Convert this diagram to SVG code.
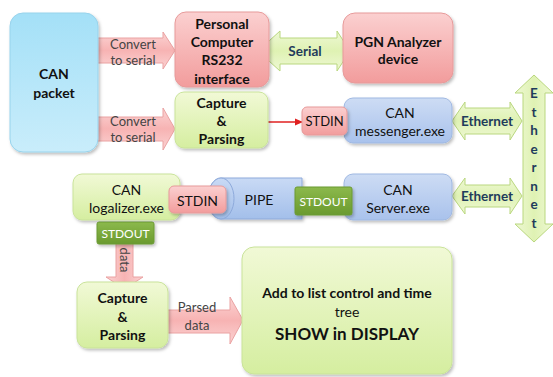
<svg xmlns="http://www.w3.org/2000/svg" width="553" height="377" viewBox="0 0 553 377">
<defs>
<linearGradient id="gBlue" x1="0" y1="0" x2="0" y2="1"><stop offset="0" stop-color="#a4e0f7"/><stop offset="1" stop-color="#c9edfb"/></linearGradient>
<linearGradient id="gPink" x1="0" y1="0" x2="0" y2="1"><stop offset="0" stop-color="#fbd0d0"/><stop offset="1" stop-color="#f29c9c"/></linearGradient>
<linearGradient id="gGreen" x1="0" y1="0" x2="0" y2="1"><stop offset="0" stop-color="#f1f9d6"/><stop offset="1" stop-color="#d5eea0"/></linearGradient>
<linearGradient id="gPurple" x1="0" y1="0" x2="0" y2="1"><stop offset="0" stop-color="#cddcf4"/><stop offset="1" stop-color="#a9c2ec"/></linearGradient>
<linearGradient id="gArrowPink" x1="0" y1="0" x2="0" y2="1"><stop offset="0" stop-color="#fbd3d3"/><stop offset="0.5" stop-color="#f7b3b3"/><stop offset="1" stop-color="#fbd3d3"/></linearGradient>
<linearGradient id="gArrowPinkV" x1="0" y1="0" x2="1" y2="0"><stop offset="0" stop-color="#fbd3d3"/><stop offset="0.5" stop-color="#f7b3b3"/><stop offset="1" stop-color="#fbd3d3"/></linearGradient>
<linearGradient id="gArrowGreen" x1="0" y1="0" x2="0" y2="1"><stop offset="0" stop-color="#eef8d4"/><stop offset="0.5" stop-color="#dff2b3"/><stop offset="1" stop-color="#eef8d4"/></linearGradient>
<linearGradient id="gArrowGreenV" x1="0" y1="0" x2="1" y2="0"><stop offset="0" stop-color="#eef8d4"/><stop offset="0.5" stop-color="#dff2b3"/><stop offset="1" stop-color="#eef8d4"/></linearGradient>
<linearGradient id="gDark" x1="0" y1="0" x2="0" y2="1"><stop offset="0" stop-color="#8cb94c"/><stop offset="1" stop-color="#6a9a2e"/></linearGradient>
<linearGradient id="gPipe" x1="0" y1="0" x2="0" y2="1"><stop offset="0" stop-color="#c9daf5"/><stop offset="1" stop-color="#a3bfea"/></linearGradient>
<filter id="sh" x="-20%" y="-20%" width="140%" height="140%"><feDropShadow dx="1.5" dy="2" stdDeviation="1.5" flood-color="#000" flood-opacity="0.25"/></filter>
<marker id="redHead" markerWidth="8" markerHeight="8" refX="7" refY="4" orient="auto" markerUnits="userSpaceOnUse"><path d="M0,0.5 L8,4 L0,7.5 Z" fill="#e02020"/></marker>
<style>
text{font-family:Lato,"Liberation Sans",sans-serif;text-anchor:middle;dominant-baseline:central;fill:#111}
.b{font-weight:bold;font-size:14px}
.n{font-size:14px}
.lbl{font-size:13px;fill:#444}
.eth{font-weight:bold;font-size:13.5px;fill:#1f3b5c}
.w{fill:#fff;font-size:12px}
.pink{fill:url(#gPink);stroke:#e79a9a;stroke-width:1}
.green{fill:url(#gGreen);stroke:#c9e39a;stroke-width:1}
.blue{fill:url(#gPurple);stroke:#9fb8e2;stroke-width:1}
.dark{fill:url(#gDark);stroke:#6b9a33;stroke-width:1}
.ap{fill:url(#gArrowPink);stroke:#eaa2a2;stroke-width:1}
.apv{fill:url(#gArrowPinkV);stroke:#eaa2a2;stroke-width:1}
.ag{fill:url(#gArrowGreen);stroke:#b9d77e;stroke-width:1}
.agv{fill:url(#gArrowGreenV);stroke:#b9d77e;stroke-width:1}
</style>
</defs>
<rect width="553" height="377" fill="#fff"/>

<g id="connectors">
<polygon class="ap" points="97,38 163,38 163,32 175,50.5 163,69 163,63 97,63"/>
<polygon class="ap" points="97,117 163,117 163,108 175,129 163,150 163,141 97,141"/>
<polygon class="ag" points="258,51 280,31 280,38 337,38 337,31 350,51 337,71 337,64 280,64 280,71"/>
<polygon class="ag" points="452,121 465,102 465,108 510,108 510,102 522,121 510,140 510,134 465,134 465,140"/>
<polygon class="ag" points="452,196 465,178 465,185 510,185 510,178 522,196 510,214 510,207 465,207 465,214"/>
<polygon class="agv" points="534,75 553,93 545,93 545,224 553,224 534,242 515,224 523,224 523,93 515,93"/>
<polygon class="apv" points="116,243 133,243 133,277 143,277 124.5,289 106,277 116,277"/>
<polygon class="ap" points="163,310 230,310 230,297 243,320 230,344 230,333 163,333"/>
<line x1="268" y1="122" x2="302" y2="122" stroke="#e02020" stroke-width="1.3" marker-end="url(#redHead)"/>
<text class="lbl" x="133" y="44">Convert</text>
<text class="lbl" x="133" y="60">to serial</text>
<text class="lbl" x="133" y="121">Convert</text>
<text class="lbl" x="133" y="137">to serial</text>
<text class="eth" x="305" y="51">Serial</text>
<text class="eth" x="487" y="121">Ethernet</text>
<text class="eth" x="487" y="196">Ethernet</text>
<text class="eth" x="534" y="93">E</text>
<text class="eth" x="534" y="112">t</text>
<text class="eth" x="534" y="130">h</text>
<text class="eth" x="534" y="149">e</text>
<text class="eth" x="534" y="167">r</text>
<text class="eth" x="534" y="186">n</text>
<text class="eth" x="534" y="204">e</text>
<text class="eth" x="534" y="223">t</text>
<text class="lbl" transform="translate(125,260) rotate(90)">data</text>
<text class="lbl" x="197" y="307">Parsed</text>
<text class="lbl" x="197" y="325">data</text>
</g>

<g id="can-packet">
<rect x="10" y="13" width="88" height="139" rx="13" fill="url(#gBlue)" stroke="#98d3ec" filter="url(#sh)"/>
<text class="b" x="54" y="73">CAN</text>
<text class="b" x="54" y="92">packet</text>
</g>

<g id="personal-computer">
<rect x="175" y="12" width="94" height="75" rx="11" class="pink" filter="url(#sh)"/>
<text class="b" x="222" y="23">Personal</text>
<text class="b" x="222" y="41">Computer</text>
<text class="b" x="222" y="59">RS232</text>
<text class="b" x="222" y="78">interface</text>
</g>

<g id="capture-parsing-1">
<rect x="175" y="92" width="93" height="56" rx="9" class="green" filter="url(#sh)"/>
<text class="b" x="221.5" y="102">Capture</text>
<text class="b" x="221.5" y="120">&amp;</text>
<text class="b" x="221.5" y="138">Parsing</text>
</g>

<g id="pgn-analyzer">
<rect x="343" y="13" width="110" height="70" rx="12" class="pink" filter="url(#sh)"/>
<text class="b" x="398" y="41">PGN Analyzer</text>
<text class="b" x="398" y="58">device</text>
</g>

<g id="can-messenger">
<rect x="344" y="98" width="108" height="45" rx="9" class="blue" filter="url(#sh)"/>
<text class="n" x="400" y="112">CAN</text>
<text class="n" x="400" y="130">messenger.exe</text>
</g>

<g id="stdin-messenger">
<rect x="302" y="107" width="45" height="28" rx="5" class="pink" filter="url(#sh)"/>
<text class="n" x="324.5" y="121" style="font-size:13px">STDIN</text>
</g>

<g id="pipe">
<path d="M221,178 H302 V219 H221 A13,20.5 0 0 1 221,178 Z" fill="url(#gPipe)" stroke="#8eaadb" filter="url(#sh)"/>
<ellipse cx="221" cy="198.5" rx="13" ry="20.5" fill="url(#gPipe)" stroke="#8eaadb"/>
<text class="n" x="259" y="199">PIPE</text>
</g>

<g id="can-logalizer">
<rect x="73" y="174" width="107" height="46" rx="9" class="green" filter="url(#sh)"/>
<text class="n" x="126.5" y="189">CAN</text>
<text class="n" x="126.5" y="207">logalizer.exe</text>
</g>

<g id="stdin-pipe">
<rect x="169" y="186" width="57" height="27" rx="5" class="pink" filter="url(#sh)"/>
<text class="n" x="197.5" y="200">STDIN</text>
</g>

<g id="can-server">
<rect x="344" y="174" width="108" height="46" rx="9" class="blue" filter="url(#sh)"/>
<text class="n" x="398" y="189">CAN</text>
<text class="n" x="398" y="207">Server.exe</text>
</g>

<g id="stdout-pipe">
<rect x="295" y="187" width="57" height="28" rx="2" class="dark" filter="url(#sh)"/>
<text class="w" x="323.5" y="201">STDOUT</text>
</g>

<g id="stdout-logalizer">
<rect x="97" y="222" width="57" height="22" rx="2" class="dark" filter="url(#sh)"/>
<text class="w" x="125.5" y="233">STDOUT</text>
</g>

<g id="capture-parsing-2">
<rect x="77" y="282" width="91" height="66" rx="10" class="green" filter="url(#sh)"/>
<text class="b" x="122.5" y="297">Capture</text>
<text class="b" x="122.5" y="316">&amp;</text>
<text class="b" x="122.5" y="334">Parsing</text>
</g>

<g id="display">
<rect x="242" y="247" width="210" height="127" rx="12" class="green" filter="url(#sh)"/>
<text class="b" x="347" y="292">Add to list control and time</text>
<text class="n" x="347" y="311">tree</text>
<text class="b" x="347" y="333" style="font-size:17px">SHOW in DISPLAY</text>
</g>
</svg>
